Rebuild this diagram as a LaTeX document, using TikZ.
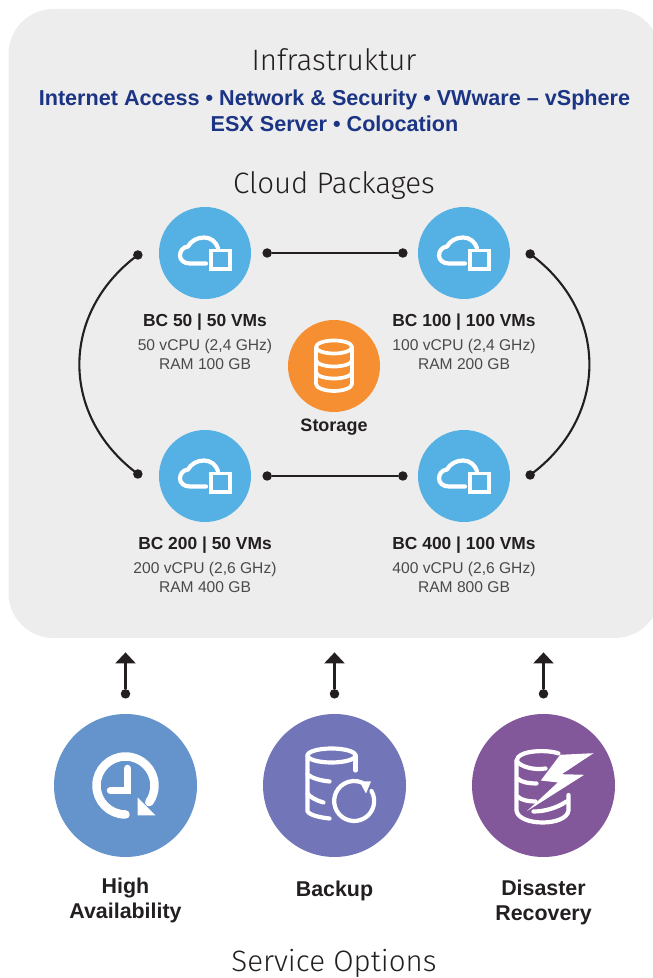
\documentclass[tikz,border=0pt]{standalone}
\usepackage{fontspec}
\setmainfont{Liberation Sans}
\newfontfamily\lightfont{Fira Sans Light}
\usetikzlibrary{arrows.meta,positioning}
\definecolor{panelgray}{HTML}{EDEDED}
\definecolor{bcblue}{HTML}{55B0E3}
\definecolor{storeorange}{HTML}{F58F32}
\definecolor{headblue}{HTML}{1B3484}
\definecolor{habl}{HTML}{6594CD}
\definecolor{bkvio}{HTML}{7276B8}
\definecolor{drpur}{HTML}{82589B}
\definecolor{inkdark}{HTML}{231F20}
\definecolor{inkgray}{HTML}{4A4A4A}
\newcommand{\bcsmall}[1]{{\fontsize{15.6}{19}\selectfont\color{inkgray}#1}}
\newcommand{\bctext}[3]{{\fontsize{17.4}{19}\selectfont\bfseries\color{inkdark}#1}\\[5pt]\bcsmall{#2}\\\bcsmall{#3}}
\tikzset{
  bcnd/.style={circle, fill=bcblue, minimum size=92pt, inner sep=0pt},
  svcnd/.style={circle, fill=#1, minimum size=143pt, inner sep=0pt},
  dotnd/.style={circle, fill=inkdark, minimum size=9.5pt, inner sep=0pt},
  title/.style={font=\lightfont\fontsize{29.5}{32}\selectfont, text=inkdark, inner sep=0pt},
  bclbl/.style={align=center, inner sep=0pt, font=\fontsize{15.6}{19}\selectfont},
  svclbl/.style={align=center, inner sep=0pt, text=inkdark, font=\bfseries\fontsize{21.4}{25}\selectfont},
  conn/.style={draw=inkdark, line width=2.1pt},
  uparr/.style={conn, line width=2.5pt, -{Triangle[width=20pt,length=11pt]}},
  icn/.style={draw=white, line width=#1, line cap=round, line join=round},
  icn/.default=4.2pt,
  cloudicon/.pic={
    \draw[icn] (1,-10.5) -- (-15,-10.5) .. controls (-21,-10.5) and (-25,-7) .. (-25,-2.5)
      .. controls (-25,2) and (-22,6) .. (-17,6.5) .. controls (-14,12) and (-8,15.5) .. (-1,15.5)
      .. controls (6,15.5) and (11,11) .. (13,5);
    \draw[icn=3.8pt, line cap=butt, line join=miter] (6,2.5) rectangle (25,-16);
  },
  storeicon/.pic={
    \draw[icn=3.7pt] (0,19) ellipse (18pt and 6.5pt);
    \draw[icn=3.7pt] (-18,19) -- (-18,-18) .. controls (-18,-22) and (-9,-25) .. (0,-25)
      .. controls (9,-25) and (18,-22) .. (18,-18) -- (18,19);
    \foreach \yy in {6,-6} {
      \draw[icn=3.7pt] (-18,\yy) .. controls (-18,\yy-4) and (-9,\yy-6.5) .. (0,\yy-6.5)
        .. controls (9,\yy-6.5) and (18,\yy-4) .. (18,\yy);
    }
  },
  haicon/.pic={
    \draw[icn=8.5pt] (0,-29) arc (270:-35:29);
    \draw[icn=7.5pt, line join=miter] (2,17) -- (2,-5) -- (-15,-5);
    \fill[white] (12,-12) -- (12,-30) -- (30,-30) -- cycle;
  },
  bkicon/.pic={
    \draw[icn=4.2pt] (-3,30) ellipse (24pt and 7pt);
    \draw[icn=4.2pt] (-27,30) -- (-27,-26) .. controls (-24,-30) and (-14,-32) .. (-5,-33);
    \draw[icn=4.2pt] (21,30) -- (21,15);
    \draw[icn=4.2pt] (-27,11) .. controls (-22,7) and (-14,5) .. (-5,4);
    \draw[icn=4.2pt] (-27,-8) .. controls (-24,-12) and (-18,-15) .. (-11,-17);
    \draw[icn=4.2pt] (37,-5.5) arc (30:-293:20);
    \fill[white] (25,4) -- (36.5,4) -- (31.5,-8) -- cycle;
  },
  dricon/.pic={
    \draw[icn=4.2pt] (15,32) .. controls (5,36) and (-27,36) .. (-27,24) -- (-27,-25)
      .. controls (-25,-41) and (23,-41) .. (25,-25) -- (25,-9.5);
    \draw[icn=4.2pt] (-27,25) .. controls (-24,19) and (-10,15) .. (2,17);
    \draw[icn=4.2pt] (-26,7) .. controls (-22,3) and (-14,2) .. (-7,2);
    \draw[icn=4.2pt] (-26,-11) .. controls (-22,-15) and (-14,-16) .. (-8,-16);
    \draw[icn=4.2pt] (-10,-26) .. controls (2,-26) and (14,-22) .. (23,-16);
    \fill[white] (16.7,30.7) -- (50,32.3) -- (18.3,11.3) -- (40.7,10.7) -- (-16.7,-25.7)
      -- (14.3,3) -- (-2.7,5) -- cycle;
  },
}
\begin{document}
\begin{tikzpicture}[x=1pt, y=1pt]
\clip (0,0) rectangle (653,978);
\fill[panelgray, rounded corners=45pt] (8.5,340) rectangle (660,969);
% headings
\node[title] (infra) at (334,918) {Infrastruktur};
\node[align=center, inner sep=0pt, text=headblue, font=\bfseries\fontsize{21.6}{26}\selectfont] (offer) at (334.5,867)
  {Internet Access • Network \& Security • VWware – vSphere\\ESX Server • Colocation};
\node[title] (cloud) at (334,792) {Cloud Packages};
% packages
\node[bcnd] (bc50) at (205,725) {};
\node[bcnd] (bc100) at (464,725) {};
\node[bcnd] (bc200) at (205,502) {};
\node[bcnd] (bc400) at (464,502) {};
\node[circle, fill=storeorange, minimum size=92pt, inner sep=0pt] (store) at (334,612) {};
\pic at (bc50) {cloudicon};
\pic at (bc100) {cloudicon};
\pic at (bc200) {cloudicon};
\pic at (bc400) {cloudicon};
\pic at (store) {storeicon};
\node[bclbl, below=14pt of bc50] (lbl50) {\bctext{BC 50 | 50 VMs}{50 vCPU (2,4 GHz)}{RAM 100 GB}};
\node[bclbl, below=14pt of bc100] (lbl100) {\bctext{BC 100 | 100 VMs}{100 vCPU (2,4 GHz)}{RAM 200 GB}};
\node[bclbl, below=14pt of bc200] (lbl200) {\bctext{BC 200 | 50 VMs}{200 vCPU (2,6 GHz)}{RAM 400 GB}};
\node[bclbl, below=14pt of bc400] (lbl400) {\bctext{BC 400 | 100 VMs}{400 vCPU (2,6 GHz)}{RAM 800 GB}};
\node[inner sep=0pt, text=inkdark, font=\bfseries\fontsize{18}{19}\selectfont, below=7pt of store] (lblstore) {Storage};
% links
\node[dotnd, right=11pt of bc50] (d50r) {};
\node[dotnd, left=10pt of bc100] (d100l) {};
\node[dotnd, right=11pt of bc200] (d200r) {};
\node[dotnd, left=10pt of bc400] (d400l) {};
\node[dotnd, left=16pt of bc50, yshift=-2pt] (d50l) {};
\node[dotnd, left=16pt of bc200, yshift=2pt] (d200l) {};
\node[dotnd, right=15pt of bc100, yshift=-1pt] (d100r) {};
\node[dotnd, right=15pt of bc400, yshift=1pt] (d400r) {};
\draw[conn] (d50r) -- (d100l);
\draw[conn] (d200r) -- (d400l);
\draw[conn] (d100r.center) .. controls +(79,-58) and +(79,58) .. (d400r.center);
\draw[conn] (d50l.center) .. controls +(-78,-58) and +(-78,58) .. (d200l.center);
% service options
\node[svcnd=habl] (ha) at (125.5,192.5) {};
\node[svcnd=bkvio] (bk) at (334.5,192.5) {};
\node[svcnd=drpur] (dr) at (543.5,192.5) {};
\pic at (ha) {haicon};
\pic at (bk) {bkicon};
\pic at (dr) {dricon};
\foreach \sv in {ha,bk,dr} {
  \node[dotnd, above=15pt of \sv] (\sv dot) {};
  \coordinate[above=36.5pt of \sv dot] (\sv tip);
  \draw[uparr] (\sv dot) -- (\sv tip);
}
\node[svclbl, below=21pt of ha] (lblha) {High\\Availability};
\node[svclbl, below=24pt of bk] (lblbk) {Backup};
\node[svclbl, below=23pt of dr] (lbldr) {Disaster\\Recovery};
\node[title] (svc) at (334,15) {Service Options};
\end{tikzpicture}
\end{document}
